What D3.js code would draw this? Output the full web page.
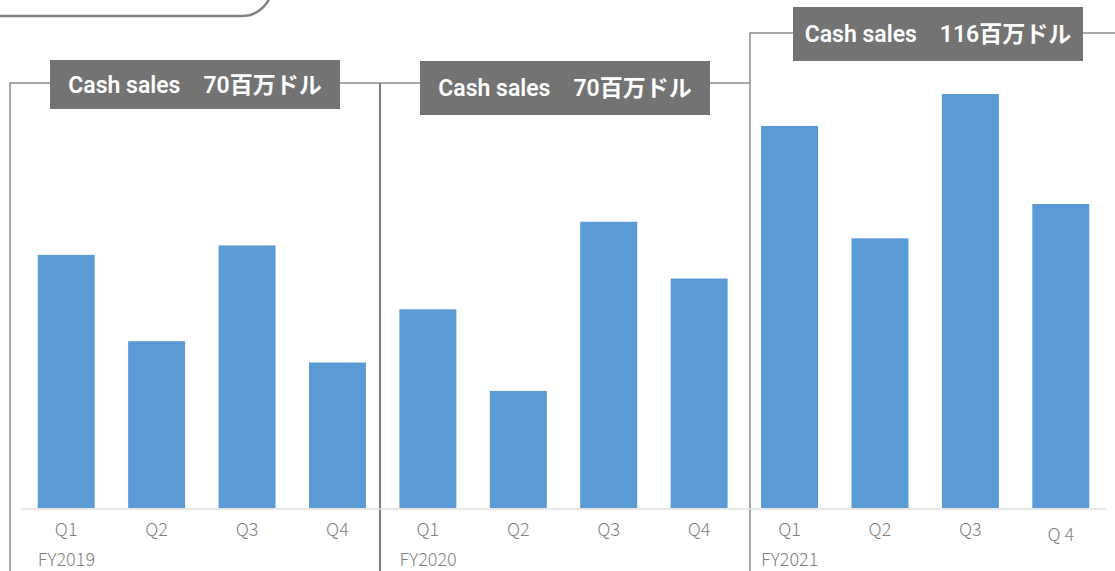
<!DOCTYPE html>
<html>
<head>
<meta charset="utf-8">
<script src="https://cdn.jsdelivr.net/npm/d3@7"></script>
<style>
  body { margin: 0; background: #fff; }
  svg { display: block; }
</style>
</head>
<body>
<div id="plot"></div>
<script>
// cash sales by quarter, millions of dollars
var years = ["FY2019", "FY2020", "FY2021"];
var totals = [70, 70, 116];
var quarters = ["Q1", "Q2", "Q3", "Q4"];
var fy2019 = [21.4, 14.1, 22.2, 12.3];
var fy2020 = [16.8, 9.9, 24.2, 19.4];
var fy2021 = [32.3, 22.8, 35.0, 25.7];
var tickLabels = ["Q1", "Q2", "Q3", "Q4", "Q1", "Q2", "Q3", "Q4", "Q1", "Q2", "Q3", "Q 4"];

var width = 1115;
var height = 571;
var barColor = "#5b9bd5";
var frameColor = "#8a8a8a";
var textGray = "#7f7f7f";

var series = [fy2019, fy2020, fy2021];
var data = [];
series.forEach(function(vals, i){
  vals.forEach(function(v, j){
    data.push({key: years[i] + "-" + quarters[j], year: years[i], q: quarters[j], value: v, idx: i * 4 + j});
  });
});

var svg = d3.select("div#plot")
  .append("svg")
  .attr("width", width)
  .attr("height", height);

var x = d3.scaleBand()
  .domain(data.map(function(d){ return d.key; }))
  .range([21, 1106])
  .paddingInner(0.37)
  .paddingOuter(0.185);

var y = d3.scaleLinear()
  .domain([0, 35])
  .range([508, 94]);

// decorative rounded box peeking in at the top left
svg.append("rect")
  .attr("x", -60).attr("y", -120)
  .attr("width", 332).attr("height", 136)
  .attr("rx", 30).attr("ry", 30)
  .style("fill", "none")
  .style("stroke", "#808080")
  .style("stroke-width", 2.5);

// panel frames: left x, top y, right x, label box
var panels = [
  {left: 10, top: 83, right: 380, box: [50, 60, 290, 49]},
  {left: 380, top: 83, right: 750, box: [420, 61, 290, 54]},
  {left: 750, top: 33, right: 1115, box: [793, 7, 290, 54]}
];

var frames = svg.append("g").attr("class", "frames");
panels.forEach(function(p){
  frames.append("path")
    .attr("d", "M" + p.left + "," + height + "V" + p.top + "H" + p.right)
    .style("fill", "none")
    .style("stroke", frameColor)
    .style("stroke-width", 1.5);
});
frames.append("line")
  .attr("x1", 380).attr("x2", 380).attr("y1", 83).attr("y2", height)
  .style("stroke", "#6f6f6f").style("stroke-width", 1.5);

// baseline
svg.append("line")
  .attr("x1", 21).attr("x2", 1106)
  .attr("y1", y(0) + 1).attr("y2", y(0) + 1)
  .style("stroke", "#dedede")
  .style("stroke-width", 1.5);

// bars
svg.append("g").selectAll("rect")
  .data(data)
  .enter()
  .append("rect")
  .attr("x", function(d){ return x(d.key); })
  .attr("y", function(d){ return y(d.value); })
  .attr("width", x.bandwidth())
  .attr("height", function(d){ return y(0) - y(d.value); })
  .style("fill", barColor);

// quarter labels
var xAxis = d3.axisBottom(x)
  .tickSize(0)
  .tickPadding(0)
  .tickFormat(function(d, i){ return tickLabels[i]; });

var axisG = svg.append("g")
  .attr("transform", "translate(0,536)")
  .call(xAxis);
axisG.select(".domain").remove();
axisG.selectAll("text")
  .attr("y", 0)
  .attr("dy", function(d, i){ return tickLabels[i].indexOf(" ") >= 0 ? "0.3em" : "0"; })
  .style("font-family", "'Noto Sans CJK JP', 'Noto Sans', sans-serif")
  .style("font-weight", 300)
  .style("font-size", "18px")
  .style("fill", textGray);

// year labels under first quarter of each panel
svg.append("g").selectAll("text")
  .data(years)
  .enter()
  .append("text")
  .attr("x", function(d){ return x(d + "-Q1"); })
  .attr("y", 566)
  .style("font-family", "'Noto Sans CJK JP', 'Noto Sans', sans-serif")
  .style("font-weight", 300)
  .style("font-size", "18px")
  .style("fill", textGray)
  .text(function(d){ return d; });

// total labels
var boxes = svg.append("g").selectAll("g")
  .data(panels)
  .enter()
  .append("g");

boxes.append("rect")
  .attr("x", function(d){ return d.box[0]; })
  .attr("y", function(d){ return d.box[1]; })
  .attr("width", function(d){ return d.box[2]; })
  .attr("height", function(d){ return d.box[3]; })
  .style("fill", "#737373");

boxes.append("text")
  .attr("x", function(d){ return d.box[0] + d.box[2] / 2; })
  .attr("y", function(d){ return d.box[1] + d.box[3] / 2; })
  .attr("dy", "0.36em")
  .attr("text-anchor", "middle")
  .style("font-family", "Roboto, 'Noto Sans CJK JP', sans-serif")
  .style("font-weight", 600)
  .style("font-size", "23px")
  .style("fill", "#fff")
  .text(function(d, i){ return "Cash sales\u3000" + totals[i] + "百万ドル"; });
</script>
</body>
</html>
